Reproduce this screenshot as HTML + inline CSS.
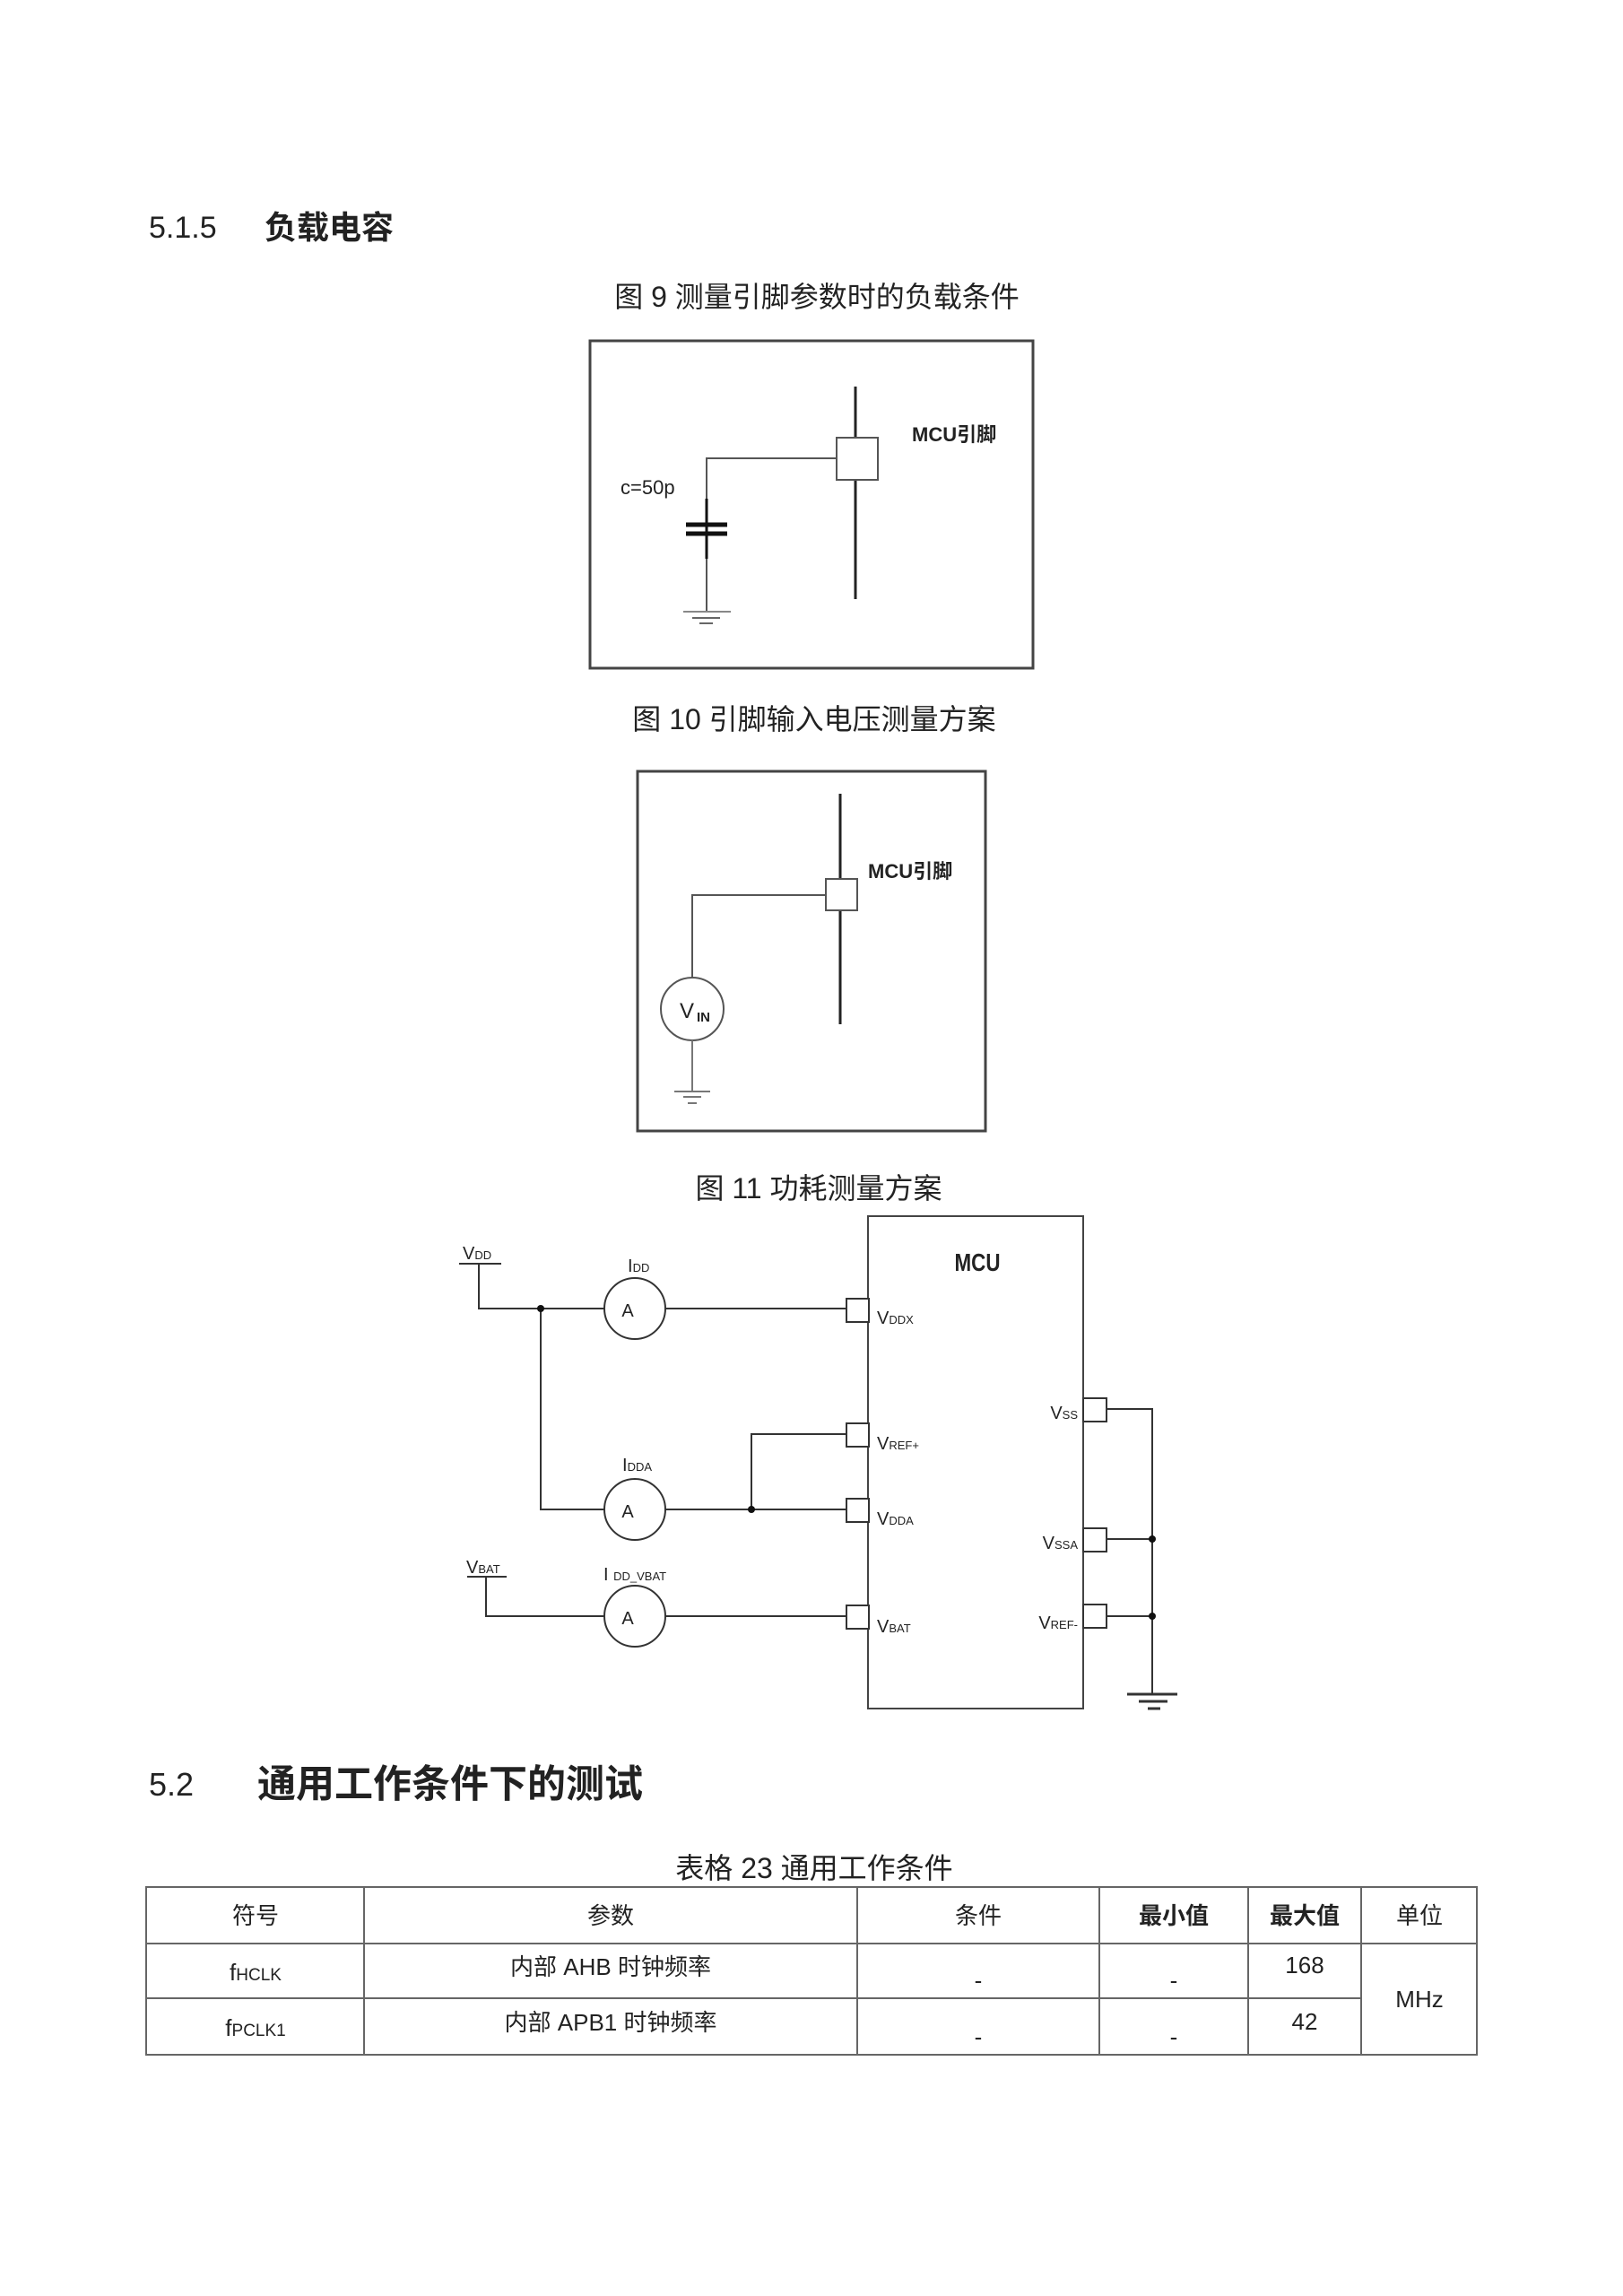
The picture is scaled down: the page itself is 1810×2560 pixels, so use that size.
<!DOCTYPE html>
<html><head><meta charset="utf-8"><style>
html,body{margin:0;padding:0;background:#fff;}
svg{display:block;}
text{font-family:"Liberation Sans","Noto Sans CJK SC",sans-serif;fill:#222;}
</style></head><body>
<svg width="1810" height="2560" viewBox="0 0 1810 2560" xmlns="http://www.w3.org/2000/svg">
<text x="166" y="265" font-size="34">5.1.5</text>
<text x="295" y="266" font-size="36" font-weight="bold" fill="#111">负载电容</text>

<text x="911" y="342" font-size="32" text-anchor="middle" fill="#444">图  9 测量引脚参数时的负载条件</text>
<rect x="658" y="380" width="494" height="365" fill="none" stroke="#444" stroke-width="3"/>
<line x1="954" y1="431" x2="954" y2="668" stroke="#222" stroke-width="3"/>
<rect x="933" y="488" width="46" height="47" fill="#fff" stroke="#555" stroke-width="2"/>
<polyline points="933,511 788,511 788,682" fill="none" stroke="#555" stroke-width="2"/>
<line x1="788" y1="556" x2="788" y2="623" stroke="#111" stroke-width="3"/>
<line x1="765" y1="585" x2="811" y2="585" stroke="#111" stroke-width="5"/>
<line x1="765" y1="595" x2="811" y2="595" stroke="#111" stroke-width="5"/>
<line x1="762" y1="682" x2="815" y2="682" stroke="#888" stroke-width="2"/>
<line x1="772" y1="689" x2="803" y2="689" stroke="#666" stroke-width="2"/>
<line x1="780" y1="695" x2="795" y2="695" stroke="#666" stroke-width="2"/>
<text x="692" y="551" font-size="22">c=50p</text>
<text x="1017" y="492" font-size="22" font-weight="bold">MCU引脚</text>

<text x="908" y="813" font-size="32" text-anchor="middle" fill="#444">图  10 引脚输入电压测量方案</text>
<rect x="711" y="860" width="388" height="401" fill="none" stroke="#444" stroke-width="3"/>
<line x1="937" y1="885" x2="937" y2="1142" stroke="#222" stroke-width="3"/>
<rect x="921" y="980" width="35" height="35" fill="#fff" stroke="#555" stroke-width="2"/>
<polyline points="921,998 772,998 772,1090" fill="none" stroke="#555" stroke-width="2"/>
<circle cx="772" cy="1125" r="35" fill="none" stroke="#555" stroke-width="2"/>
<text x="758" y="1135" font-size="24">V</text><text x="777" y="1139" font-size="15" font-weight="bold">IN</text>
<line x1="772" y1="1160" x2="772" y2="1217" stroke="#777" stroke-width="2"/>
<line x1="752" y1="1217" x2="792" y2="1217" stroke="#777" stroke-width="2"/>
<line x1="762" y1="1223" x2="782" y2="1223" stroke="#777" stroke-width="2"/>
<line x1="767" y1="1230" x2="777" y2="1230" stroke="#777" stroke-width="2"/>
<text x="968" y="979" font-size="22" font-weight="bold">MCU引脚</text>

<text x="913" y="1336" font-size="32" text-anchor="middle" fill="#444">图  11 功耗测量方案</text>
<rect x="968" y="1356" width="240" height="549" fill="none" stroke="#444" stroke-width="2"/>
<text x="1090" y="1417" font-size="28" font-weight="bold" text-anchor="middle" transform="translate(1090 0) scale(0.8 1) translate(-1090 0)">MCU</text>
<g stroke="#333" stroke-width="2" fill="none">
<line x1="512" y1="1409" x2="559" y2="1409"/>
<polyline points="534,1409 534,1459 674,1459"/>
<line x1="742" y1="1459" x2="944" y2="1459"/>
<polyline points="603,1459 603,1683 674,1683"/>
<line x1="742" y1="1683" x2="944" y2="1683"/>
<polyline points="838,1683 838,1599 944,1599"/>
<line x1="521" y1="1758" x2="565" y2="1758"/>
<polyline points="542,1758 542,1802 674,1802"/>
<line x1="742" y1="1802" x2="944" y2="1802"/>
<circle cx="708" cy="1459" r="34"/>
<circle cx="708" cy="1683" r="34"/>
<circle cx="708" cy="1802" r="34"/>
<rect x="944" y="1448" width="25" height="26" fill="#fff"/>
<rect x="944" y="1587" width="25" height="26" fill="#fff"/>
<rect x="944" y="1671" width="25" height="26" fill="#fff"/>
<rect x="944" y="1790" width="25" height="26" fill="#fff"/>
<rect x="1208" y="1559" width="26" height="26" fill="#fff"/>
<rect x="1208" y="1704" width="26" height="26" fill="#fff"/>
<rect x="1208" y="1789" width="26" height="26" fill="#fff"/>
<polyline points="1234,1571 1285,1571 1285,1889"/>
<line x1="1234" y1="1716" x2="1285" y2="1716"/>
<line x1="1234" y1="1802" x2="1285" y2="1802"/>
<line x1="1257" y1="1889" x2="1313" y2="1889" stroke-width="3"/>
<line x1="1270" y1="1897" x2="1302" y2="1897" stroke-width="3"/>
<line x1="1280" y1="1905" x2="1294" y2="1905" stroke-width="3"/>
</g>
<g fill="#111"><circle cx="603" cy="1459" r="4"/><circle cx="838" cy="1683" r="4"/><circle cx="1285" cy="1716" r="4"/><circle cx="1285" cy="1802" r="4"/></g>
<g font-size="20">
<text x="700" y="1468" text-anchor="middle">A</text>
<text x="700" y="1692" text-anchor="middle">A</text>
<text x="700" y="1811" text-anchor="middle">A</text>
<text x="516" y="1404">V<tspan font-size="13">DD</tspan></text>
<text x="700" y="1418">I<tspan font-size="13">DD</tspan></text>
<text x="694" y="1640">I<tspan font-size="13">DDA</tspan></text>
<text x="520" y="1754">V<tspan font-size="13">BAT</tspan></text>
<text x="673" y="1762">I <tspan font-size="13">DD_VBAT</tspan></text>
<text x="978" y="1476">V<tspan font-size="13">DDX</tspan></text>
<text x="978" y="1616">V<tspan font-size="13">REF+</tspan></text>
<text x="978" y="1700">V<tspan font-size="13">DDA</tspan></text>
<text x="978" y="1820">V<tspan font-size="13">BAT</tspan></text>
<text x="1202" y="1582" text-anchor="end">V<tspan font-size="13">SS</tspan></text>
<text x="1202" y="1727" text-anchor="end">V<tspan font-size="13">SSA</tspan></text>
<text x="1202" y="1816" text-anchor="end">V<tspan font-size="13">REF-</tspan></text>
</g>

<text x="166" y="2002" font-size="36">5.2</text>
<text x="287" y="2004" font-size="43" font-weight="bold" fill="#111">通用工作条件下的测试</text>

<text x="908" y="2094" font-size="32" text-anchor="middle" fill="#444">表格  23 通用工作条件</text>
<g stroke="#666" stroke-width="2" fill="none">
<rect x="163" y="2104" width="1484" height="187"/>
<line x1="163" y1="2167" x2="1647" y2="2167"/>
<line x1="163" y1="2228" x2="1518" y2="2228"/>
<line x1="406" y1="2104" x2="406" y2="2291"/>
<line x1="956" y1="2104" x2="956" y2="2291"/>
<line x1="1226" y1="2104" x2="1226" y2="2291"/>
<line x1="1392" y1="2104" x2="1392" y2="2291"/>
<line x1="1518" y1="2104" x2="1518" y2="2291"/>
</g>
<g font-size="26" text-anchor="middle">
<text x="285" y="2145">符号</text>
<text x="681" y="2145">参数</text>
<text x="1091" y="2145">条件</text>
<text x="1309" y="2145" font-weight="bold">最小值</text>
<text x="1455" y="2145" font-weight="bold">最大值</text>
<text x="1583" y="2145">单位</text>
<text x="285" y="2208">f<tspan font-size="19">HCLK</tspan></text>
<text x="285" y="2270">f<tspan font-size="19">PCLK1</tspan></text>
<text x="681" y="2202">内部 AHB 时钟频率</text>
<text x="681" y="2264">内部 APB1 时钟频率</text>
<text x="1091" y="2217">-</text>
<text x="1309" y="2217">-</text>
<text x="1091" y="2280">-</text>
<text x="1309" y="2280">-</text>
<text x="1455" y="2200">168</text>
<text x="1455" y="2263">42</text>
<text x="1583" y="2238">MHz</text>
</g>
</svg>
</body></html>
